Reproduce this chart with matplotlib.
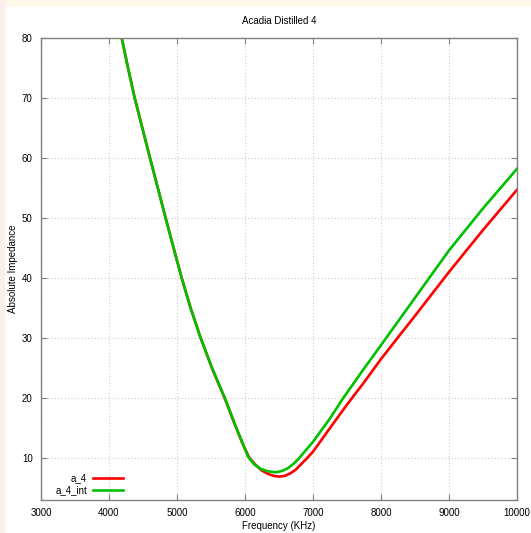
import matplotlib.pyplot as plt
from matplotlib.patches import Rectangle

# values (frequency in Hz, absolute impedance)
freq_a4 = [4187, 4280, 4378, 4490, 4603, 4718, 4833, 4950, 5069, 5200, 5348, 5520,
           5700, 5860, 5960, 6060, 6150, 6250, 6350, 6430, 6500, 6580, 6660, 6740,
           6820, 6910, 7000, 7250, 7500, 7750, 8000, 8500, 9000, 9500, 10000]
imp_a4 = [80, 75, 70, 65, 60, 55, 50, 45, 40, 35.0, 30, 24.8,
          20, 15.3, 12.5, 10.1, 8.9, 7.9, 7.3, 7.0, 6.9, 7.0, 7.4, 8.0,
          8.9, 9.95, 11.05, 15.0, 18.9, 22.6, 26.5, 33.7, 41.0, 48.0, 54.7]

freq_a4_int = [4187, 4280, 4378, 4490, 4603, 4718, 4833, 4950, 5069, 5200, 5348, 5520,
               5700, 5860, 5960, 6045, 6130, 6230, 6330, 6420, 6470, 6550, 6630, 6710,
               6790, 6880, 7000, 7250, 7445, 7750, 8000, 8500, 9000, 9500, 10000]
imp_a4_int = [80, 75, 70, 65, 60, 55, 50, 45, 40, 35.0, 30, 24.9,
              20.1, 15.4, 12.6, 10.2, 9.0, 8.2, 7.8, 7.65, 7.65, 7.85, 8.3, 9.0,
              9.9, 11.1, 12.7, 16.6, 20, 24.9, 28.8, 36.7, 44.6, 51.6, 58.2]

xticks = [3000, 4000, 5000, 6000, 7000, 8000, 9000, 10000]
yticks = [10, 20, 30, 40, 50, 60, 70, 80]

plt.rcParams['font.family'] = ['Liberation Sans', 'DejaVu Sans']

fig = plt.figure(figsize=(5.31, 5.33), dpi=100, facecolor='white')
W, H = 531, 533
# page border bands
fig.patches.append(Rectangle((0, 1 - 5 / H), 1, 5 / H, transform=fig.transFigure,
                             color='#fff8e8', zorder=0))
fig.patches.append(Rectangle((0, 0), 4 / W, 1, transform=fig.transFigure,
                             color='#fdeeee', zorder=0))

ax = fig.add_axes([41 / W, 1 - 500 / H, 476 / W, 462 / H])

ax.plot(freq_a4, imp_a4, color='#ff0000', lw=1.9, label='a_4')
ax.plot(freq_a4_int, imp_a4_int, color='#00c000', lw=1.9, label='a_4_int')

ax.set_xlim(3000, 10000)
ax.set_ylim(3, 80)
ax.set_xticks(xticks)
ax.set_yticks(yticks)
ax.tick_params(axis='both', labelsize=7, direction='in', length=4, width=0.8,
               color='#808080', top=True, right=True, pad=6)
for s in ax.spines.values():
    s.set_color('#808080')
    s.set_linewidth(1.0)
ax.grid(True, color='#cccccc', ls=(0, (1, 2)), lw=0.8)

ax.set_title('Acadia Distilled 4', fontsize=7, pad=10)
ax.set_xlabel('Frequency (KHz)', fontsize=7, labelpad=2)
ax.set_ylabel('Absolute Impedance', fontsize=7)
ax.yaxis.set_label_coords(-23 / 476, 0.5)

ax.legend(loc='lower right', bbox_to_anchor=(0.172, 0.01), frameon=False,
          markerfirst=False, fontsize=7, handlelength=3.1, handletextpad=0.6,
          borderpad=0, borderaxespad=0, labelspacing=0.25)

plt.savefig('out.png', dpi=100)
